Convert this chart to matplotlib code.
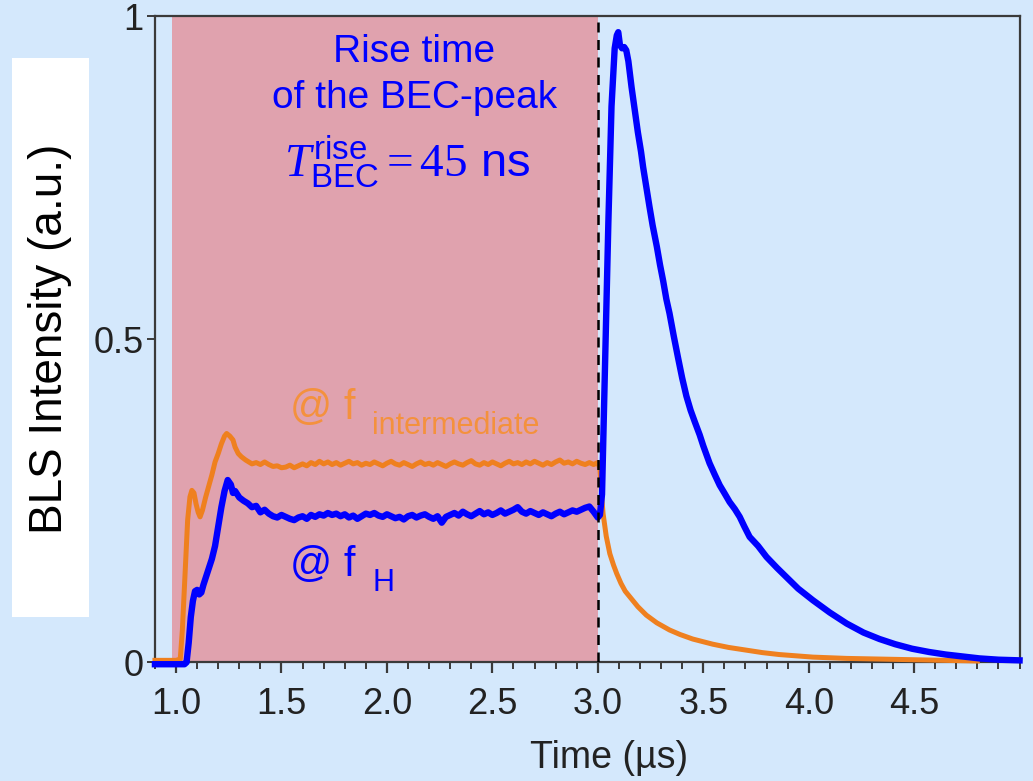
import matplotlib
matplotlib.use("Agg")
import matplotlib.pyplot as plt
from matplotlib.patches import Rectangle
from matplotlib.ticker import MultipleLocator

plt.rcParams["font.family"] = ["Liberation Sans", "DejaVu Sans"]
plt.rcParams["mathtext.fontset"] = "custom"
plt.rcParams["mathtext.rm"] = "Liberation Serif"
plt.rcParams["mathtext.it"] = "Liberation Serif:italic"
plt.rcParams["mathtext.sf"] = "Liberation Sans"

# BLS signal at the high frequency f_H (blue)
t_high = [
    0.90, 1.00, 1.04, 1.05, 1.06, 1.07, 1.08, 1.09, 1.10, 1.11, 1.12, 1.13,
    1.15, 1.17, 1.185, 1.20, 1.215, 1.23, 1.245, 1.26, 1.27, 1.28, 1.30, 1.32,
    1.34, 1.36, 1.38, 1.40, 1.42, 1.44, 1.46, 1.48, 1.50,
    1.52, 1.54, 1.56, 1.58, 1.60, 1.62, 1.64, 1.66, 1.68, 1.70, 1.72, 1.74,
    1.76, 1.78, 1.80, 1.82, 1.84, 1.86, 1.88, 1.90, 1.92, 1.94, 1.96, 1.98,
    2.00, 2.02, 2.04, 2.06, 2.08, 2.10, 2.12, 2.14, 2.16, 2.18, 2.20, 2.22,
    2.24, 2.26, 2.28, 2.30, 2.32, 2.34, 2.36, 2.38, 2.40, 2.42, 2.44, 2.46,
    2.48, 2.50, 2.52, 2.54, 2.56, 2.58, 2.60, 2.62, 2.64, 2.66, 2.68, 2.70,
    2.72, 2.74, 2.76, 2.78, 2.80, 2.82, 2.84, 2.86, 2.88, 2.90, 2.92, 2.94,
    2.96, 2.98, 3.00, 3.01, 3.02, 3.03, 3.04, 3.05, 3.065, 3.08, 3.09, 3.097,
    3.105, 3.115, 3.125, 3.135, 3.145, 3.16, 3.175, 3.19, 3.205, 3.215, 3.23,
    3.245, 3.26, 3.28, 3.295, 3.31, 3.325, 3.34, 3.36, 3.38, 3.40, 3.42,
    3.44, 3.46, 3.483, 3.50, 3.53, 3.555, 3.578, 3.60, 3.625, 3.65, 3.673,
    3.695, 3.72, 3.76, 3.80, 3.85, 3.894, 3.95, 4.02, 4.10, 4.18, 4.26, 4.336,
    4.41, 4.49, 4.57, 4.65, 4.73, 4.81, 4.90, 5.00,
]
i_high = [
    -0.003, -0.003, -0.003, 0.000, 0.030, 0.070, 0.095, 0.110, 0.112, 0.105,
    0.108, 0.120, 0.140, 0.160, 0.180, 0.210, 0.240, 0.265, 0.282, 0.275,
    0.262, 0.265, 0.255, 0.250, 0.246, 0.240, 0.242, 0.232, 0.236, 0.230,
    0.226, 0.224, 0.228,
    0.225, 0.222, 0.220, 0.224, 0.226, 0.222, 0.228, 0.225, 0.229, 0.227,
    0.231, 0.228, 0.230, 0.226, 0.229, 0.224, 0.227, 0.222, 0.226, 0.230,
    0.228, 0.231, 0.227, 0.225, 0.229, 0.226, 0.223, 0.225, 0.221, 0.226,
    0.228, 0.224, 0.227, 0.229, 0.225, 0.222, 0.226, 0.216, 0.225, 0.228,
    0.231, 0.227, 0.233, 0.229, 0.226, 0.230, 0.234, 0.229, 0.232, 0.228,
    0.231, 0.235, 0.230, 0.233, 0.236, 0.240, 0.233, 0.230, 0.234, 0.231,
    0.228, 0.232, 0.229, 0.226, 0.230, 0.233, 0.229, 0.232, 0.235, 0.233,
    0.236, 0.239, 0.241, 0.233, 0.224, 0.228, 0.260, 0.400, 0.540, 0.680,
    0.860, 0.950, 0.970, 0.975, 0.955, 0.950, 0.952, 0.947, 0.930, 0.890,
    0.855, 0.820, 0.790, 0.766, 0.735, 0.705, 0.676, 0.643, 0.615, 0.590,
    0.562, 0.540, 0.505, 0.472, 0.440, 0.412, 0.390, 0.372, 0.352, 0.335,
    0.308, 0.290, 0.274, 0.262, 0.248, 0.237, 0.225, 0.210, 0.194, 0.180,
    0.163, 0.146, 0.132, 0.114, 0.096, 0.077, 0.060, 0.046, 0.036, 0.028,
    0.021, 0.016, 0.012, 0.009, 0.006, 0.004, 0.003,
]

# BLS signal at the intermediate frequency (orange)
t_mid = [
    0.90, 1.00, 1.02, 1.03, 1.045, 1.055, 1.066, 1.075, 1.085, 1.095, 1.105,
    1.114, 1.125, 1.14, 1.153, 1.17, 1.185, 1.20, 1.215, 1.23, 1.24, 1.255,
    1.27, 1.28, 1.295, 1.31, 1.33, 1.36, 1.38, 1.40, 1.42, 1.44, 1.46, 1.48,
    1.50,
    1.52, 1.54, 1.56, 1.58, 1.60, 1.62, 1.64, 1.66, 1.68, 1.70, 1.72, 1.74,
    1.76, 1.78, 1.80, 1.82, 1.84, 1.86, 1.88, 1.90, 1.92, 1.94, 1.96, 1.98,
    2.00, 2.02, 2.04, 2.06, 2.08, 2.10, 2.12, 2.14, 2.16, 2.18, 2.20, 2.22,
    2.24, 2.26, 2.28, 2.30, 2.32, 2.34, 2.36, 2.38, 2.40, 2.42, 2.44, 2.46,
    2.48, 2.50, 2.52, 2.54, 2.56, 2.58, 2.60, 2.62, 2.64, 2.66, 2.68, 2.70,
    2.72, 2.74, 2.76, 2.78, 2.80, 2.82, 2.84, 2.86, 2.88, 2.90, 2.92, 2.94,
    2.96, 2.98, 3.00, 3.01, 3.02, 3.025, 3.04, 3.057, 3.075, 3.09, 3.11,
    3.13, 3.15, 3.19, 3.23, 3.28, 3.34, 3.39, 3.45, 3.545, 3.62, 3.70, 3.78,
    3.86, 3.94, 4.02, 4.18, 4.34, 4.50, 4.65, 4.80,
]
i_mid = [
    0.003, 0.003, 0.005, 0.050, 0.150, 0.220, 0.256, 0.266, 0.262, 0.245,
    0.232, 0.225, 0.235, 0.255, 0.270, 0.290, 0.310, 0.323, 0.338, 0.350,
    0.354, 0.350, 0.344, 0.333, 0.323, 0.318, 0.313, 0.307, 0.309, 0.306,
    0.310, 0.306, 0.303, 0.304, 0.301,
    0.302, 0.305, 0.301, 0.304, 0.307, 0.304, 0.309, 0.306, 0.311, 0.307,
    0.310, 0.306, 0.309, 0.305, 0.308, 0.311, 0.307, 0.309, 0.305, 0.308,
    0.306, 0.310, 0.307, 0.304, 0.308, 0.311, 0.307, 0.305, 0.309, 0.306,
    0.303, 0.307, 0.310, 0.306, 0.308, 0.305, 0.309, 0.306, 0.303, 0.307,
    0.310, 0.307, 0.305, 0.309, 0.312, 0.307, 0.305, 0.309, 0.306, 0.310,
    0.307, 0.304, 0.308, 0.311, 0.307, 0.309, 0.306, 0.310, 0.307, 0.311,
    0.308, 0.305, 0.309, 0.306, 0.310, 0.313, 0.308, 0.310, 0.307, 0.311,
    0.308, 0.306, 0.309, 0.306, 0.309, 0.300, 0.250, 0.230, 0.195, 0.168,
    0.150, 0.137, 0.122, 0.110, 0.102, 0.086, 0.073, 0.061, 0.050, 0.043,
    0.036, 0.028, 0.023, 0.019, 0.015, 0.012, 0.010, 0.008, 0.006, 0.005,
    0.004, 0.003, 0.002,
]

pump_window = (0.98, 3.0)
x_major = [1.0, 1.5, 2.0, 2.5, 3.0, 3.5, 4.0, 4.5]
y_major = [0, 0.5, 1]
y_labels = ["0", "0.5", "1"]

bg = "#d4e8fc"
pink = "#e0a2ae"
blue = "#0000ff"
orange = "#ef801f"
orange_text = "#f4913d"
spine = "#3a3a3a"

fig = plt.figure(figsize=(10.33, 7.81), dpi=100, facecolor=bg)
ax = fig.add_axes([0.150, 0.152, 0.837, 0.8275], facecolor=bg)

ax.axvspan(*pump_window, color=pink, lw=0, zorder=0)
ax.plot(t_mid, i_mid, color=orange, lw=3.6, solid_joinstyle="round",
        clip_on=False, zorder=2)
ax.plot(t_high, i_high, color=blue, lw=4.6, solid_joinstyle="round",
        clip_on=False, zorder=3)
ax.axvline(pump_window[1], color="black", lw=1.8, ls=(0, (4, 3)), zorder=4)

ax.set_xlim(0.9, 5.0)
ax.set_ylim(0, 1)
ax.set_xticks(x_major)
ax.set_xticklabels([f"{v:.1f}" for v in x_major])
ax.xaxis.set_minor_locator(MultipleLocator(0.1))
ax.set_yticks(y_major)
ax.set_yticklabels(y_labels)

for s in ax.spines.values():
    s.set_color(spine)
    s.set_linewidth(1.6)
    s.set_zorder(1)
ax.tick_params(axis="x", which="major", direction="out", length=8, width=1.6,
               color=spine, labelsize=26, pad=10, labelcolor="#222222")
ax.tick_params(axis="x", which="minor", direction="out", length=5, width=1.4,
               color=spine)
ax.tick_params(axis="y", which="major", direction="out", length=6, width=1.4,
               color=spine, labelsize=26, pad=2, labelcolor="#222222")

# annotation in the pump window
ax.text(2.13, 0.945, "Rise time", color=blue, fontsize=28,
        ha="center", va="center")
ax.text(2.13, 0.873, "of the BEC-peak", color=blue, fontsize=28,
        ha="center", va="center")
ax.text(2.095, 0.775, r"$T_{\mathsf{BEC}}^{\mathsf{rise}} = 45$ ns",
        color=blue, fontsize=34, ha="center", va="center")

# curve labels
ax.text(1.54, 0.393, "@ f", color=orange_text, fontsize=30, va="center")
ax.text(1.93, 0.365, "intermediate", color=orange_text, fontsize=22,
        va="center")
ax.text(1.54, 0.150, "@ f", color=blue, fontsize=30, va="center")
ax.text(1.93, 0.122, "H", color=blue, fontsize=22, va="center")

# y label sits on a white box
fig.patches.append(Rectangle((0.0116, 0.210), 0.0745, 0.716,
                             transform=fig.transFigure, facecolor="white",
                             edgecolor="none", zorder=0))
fig.text(0.0484, 0.566, "BLS Intensity (a.u.)", rotation=90, fontsize=33,
         ha="center", va="center", color="black")
fig.text(0.590, 0.030, "Time (\u00b5s)", fontsize=27, ha="center",
         va="center", color="#222222")

fig.savefig("out.png", dpi=100, facecolor=bg)
